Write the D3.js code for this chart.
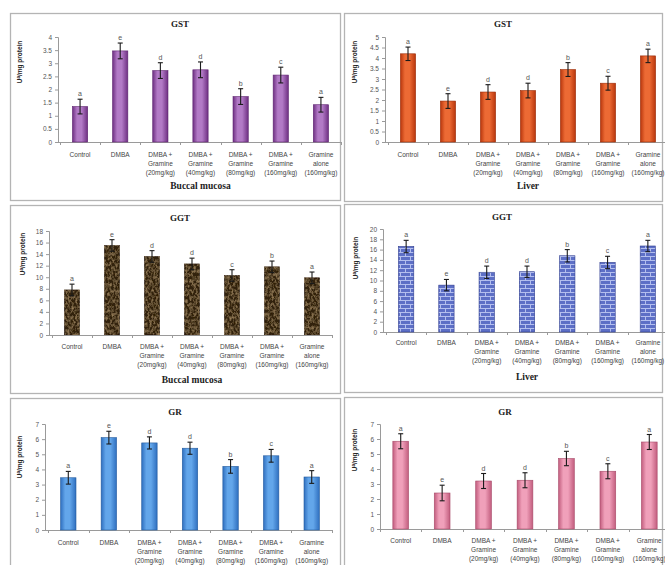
<!DOCTYPE html>
<html>
<head>
<meta charset="utf-8">
<script src="https://cdn.jsdelivr.net/npm/d3@7"></script>
<style>
  html, body { margin: 0; padding: 0; background: #fff; }
  svg { display: block; }
</style>
</head>
<body>
<svg id="fig" width="665" height="565"></svg>
<script>
// Treatment groups (shared by every panel)
const categories = [
  ["Control"],
  ["DMBA"],
  ["DMBA +", "Gramine", "(20mg/kg)"],
  ["DMBA +", "Gramine", "(40mg/kg)"],
  ["DMBA +", "Gramine", "(80mg/kg)"],
  ["DMBA +", "Gramine", "(160mg/kg)"],
  ["Gramine", "alone", "(160mg/kg)"]
];

// GST, buccal mucosa
const gstBuccal    = [1.35, 3.47, 2.72, 2.75, 1.73, 2.55, 1.42];
const gstBuccalErr = [0.28, 0.30, 0.30, 0.30, 0.30, 0.30, 0.28];
const gstBuccalSig = ["a", "e", "d", "d", "b", "c", "a"];
const gstBuccalTicks = [0, 0.5, 1, 1.5, 2, 2.5, 3, 3.5, 4];

// GST, liver
const gstLiver    = [4.2, 1.95, 2.38, 2.45, 3.45, 2.8, 4.1];
const gstLiverErr = [0.32, 0.35, 0.35, 0.35, 0.33, 0.33, 0.32];
const gstLiverSig = ["a", "e", "d", "d", "b", "c", "a"];
const gstLiverTicks = [0, 0.5, 1, 1.5, 2, 2.5, 3, 3.5, 4, 4.5, 5];

// GGT, buccal mucosa
const ggtBuccal    = [7.8, 15.5, 13.6, 12.3, 10.3, 11.8, 9.9];
const ggtBuccalErr = [1.0, 1.0, 1.0, 1.0, 1.0, 1.0, 1.0];
const ggtBuccalSig = ["a", "e", "d", "d", "c", "b", "a"];
const ggtBuccalTicks = [0, 2, 4, 6, 8, 10, 12, 14, 16, 18];

// GGT, liver
const ggtLiver    = [16.6, 9.1, 11.6, 11.7, 14.8, 13.5, 16.7];
const ggtLiverErr = [1.2, 1.1, 1.2, 1.1, 1.2, 1.2, 1.1];
const ggtLiverSig = ["a", "e", "d", "d", "b", "c", "a"];
const ggtLiverTicks = [0, 2, 4, 6, 8, 10, 12, 14, 16, 18, 20];

// GR, buccal mucosa
const grBuccal    = [3.45, 6.1, 5.75, 5.4, 4.2, 4.9, 3.5];
const grBuccalErr = [0.42, 0.42, 0.40, 0.40, 0.45, 0.42, 0.42];
const grBuccalSig = ["a", "e", "d", "d", "b", "c", "a"];
const grTicks = [0, 1, 2, 3, 4, 5, 6, 7];

// GR, liver
const grLiver    = [5.85, 2.4, 3.2, 3.25, 4.7, 3.85, 5.8];
const grLiverErr = [0.5, 0.52, 0.5, 0.5, 0.48, 0.5, 0.5];
const grLiverSig = ["a", "e", "d", "d", "b", "c", "a"];

const svg = d3.select("#fig");
const defs = svg.append("defs");

// horizontal shading for the flat-colour bars (dark edges, light middle)
function barGradient(id, edge, mid) {
  const g = defs.append("linearGradient").attr("id", id)
    .attr("x1", "0").attr("x2", "1").attr("y1", "0").attr("y2", "0");
  g.append("stop").attr("offset", "0%").attr("stop-color", edge);
  g.append("stop").attr("offset", "30%").attr("stop-color", mid);
  g.append("stop").attr("offset", "60%").attr("stop-color", mid);
  g.append("stop").attr("offset", "100%").attr("stop-color", edge);
}
barGradient("gPurple", "#6e2f82", "#b27ac6");
barGradient("gOrange", "#b8360c", "#ec6a34");
barGradient("gBlue",   "#2f6fbf", "#63a6ea");
barGradient("gPink",   "#c25d7e", "#f0a0ba");

// brown granite texture: dark base with fine lighter streaks
const gran = defs.append("filter").attr("id", "granite")
  .attr("x", 0).attr("y", 0).attr("width", 1).attr("height", 1);
gran.append("feTurbulence").attr("type", "fractalNoise")
  .attr("baseFrequency", "0.5 0.3").attr("numOctaves", 3).attr("seed", 7).attr("result", "n");
gran.append("feColorMatrix").attr("in", "n").attr("type", "matrix")
  .attr("values", "0 0 0 0 0.46  0 0 0 0 0.31  0 0 0 0 0.15  1.5 0 0 0 -0.62")
  .attr("result", "spots");
gran.append("feComposite").attr("in", "spots").attr("in2", "SourceGraphic")
  .attr("operator", "in").attr("result", "clip");
const gm = gran.append("feMerge");
gm.append("feMergeNode").attr("in", "SourceGraphic");
gm.append("feMergeNode").attr("in", "clip");

// blue brick texture
const brick = defs.append("pattern").attr("id", "brick")
  .attr("patternUnits", "userSpaceOnUse").attr("width", 10).attr("height", 8);
brick.append("rect").attr("width", 10).attr("height", 8).attr("fill", "#5d6fc6");
brick.append("path")
  .attr("d", "M0,0.5H10M0,4.5H10M0.5,0.5V4.5M5.5,4.5V8")
  .attr("stroke", "#b4bfee").attr("stroke-width", 1).attr("fill", "none");

const panels = [
  { title: "GST", vals: gstBuccal, err: gstBuccalErr, sig: gstBuccalSig, ticks: gstBuccalTicks,
    fill: "url(#gPurple)", stroke: "#5e2470", xTitle: "Buccal mucosa",
    box: [10, 13, 330, 187], axisX: 58, xr: [60, 341], yr: [142, 37],
    titlePos: [180, 27], yTitlePos: [22, 62], catY: 157, xTitleY: 189 },
  { title: "GST", vals: gstLiver, err: gstLiverErr, sig: gstLiverSig, ticks: gstLiverTicks,
    fill: "url(#gOrange)", stroke: "#9a2c08", xTitle: "Liver",
    box: [344, 13, 318, 188], axisX: 385, xr: [388, 668], yr: [142, 37],
    titlePos: [503, 27], yTitlePos: [357, 62], catY: 157, xTitleY: 189 },
  { title: "GGT", vals: ggtBuccal, err: ggtBuccalErr, sig: ggtBuccalSig, ticks: ggtBuccalTicks,
    fill: "#32200f", filter: "url(#granite)", stroke: "#24140a", xTitle: "Buccal mucosa",
    box: [10, 205, 330, 188], axisX: 49, xr: [52, 332], yr: [335, 231],
    titlePos: [180, 221], yTitlePos: [25, 254], catY: 349, xTitleY: 383 },
  { title: "GGT", vals: ggtLiver, err: ggtLiverErr, sig: ggtLiverSig, ticks: ggtLiverTicks,
    fill: "url(#brick)", stroke: "#2c3a8e", xTitle: "Liver",
    box: [344, 204, 318, 188], axisX: 383, xr: [386, 668], yr: [332, 229],
    titlePos: [502, 220], yTitlePos: [358, 258], catY: 345, xTitleY: 380 },
  { title: "GR", vals: grBuccal, err: grBuccalErr, sig: grBuccalSig, ticks: grTicks,
    fill: "url(#gBlue)", stroke: "#245b9e", xTitle: "",
    box: [10, 398, 330, 175], axisX: 45, xr: [48, 332], yr: [530, 424],
    titlePos: [175, 415], yTitlePos: [22, 457], catY: 545, xTitleY: 600 },
  { title: "GR", vals: grLiver, err: grLiverErr, sig: grLiverSig, ticks: grTicks,
    fill: "url(#gPink)", stroke: "#a84b6a", xTitle: "",
    box: [344, 397, 318, 175], axisX: 380, xr: [380, 670], yr: [529, 424],
    titlePos: [505, 415], yTitlePos: [357, 450], catY: 543, xTitleY: 600 }
];

const tickFont = "Liberation Sans, Arial, sans-serif";
const serif = "Liberation Serif, Times New Roman, serif";

panels.forEach(p => {
  const g = svg.append("g");
  const [bx, by, bw, bh] = p.box;
  g.append("rect").attr("x", bx + 0.5).attr("y", by + 0.5)
    .attr("width", bw).attr("height", bh)
    .attr("fill", "#fff").attr("stroke", "#b4b4b4").attr("stroke-width", 1.3);

  const y = d3.scaleLinear().domain([0, d3.max(p.ticks)]).range(p.yr);
  const x = d3.scaleBand().domain(d3.range(categories.length))
    .range(p.xr).paddingInner(0.62).paddingOuter(0.31);

  // y axis
  const ya = g.append("g").attr("transform", `translate(${p.axisX},0)`)
    .call(d3.axisLeft(y).tickValues(p.ticks).tickSize(3).tickPadding(3)
      .tickFormat(d => String(d)));
  ya.select(".domain").attr("stroke", "#9a9a9a");
  ya.selectAll(".tick line").attr("stroke", "#9a9a9a");
  ya.selectAll(".tick text").attr("fill", "#555").style("font", `6.5px ${tickFont}`);

  // x axis line with separators between groups
  const xa = g.append("g");
  xa.append("line").attr("x1", p.axisX).attr("x2", p.xr[1])
    .attr("y1", p.yr[0] + 0.5).attr("y2", p.yr[0] + 0.5).attr("stroke", "#9a9a9a");
  d3.range(categories.length + 1).forEach(i => {
    const tx = Math.round(p.xr[0] + i * x.step()) + 0.5;
    xa.append("line").attr("x1", tx).attr("x2", tx)
      .attr("y1", p.yr[0]).attr("y2", p.yr[0] + 3).attr("stroke", "#9a9a9a");
  });

  // bars
  g.selectAll("rect.bar").data(p.vals).join("rect").attr("class", "bar")
    .attr("x", (d, i) => x(i)).attr("width", x.bandwidth())
    .attr("y", d => y(d)).attr("height", d => y(0) - y(d))
    .attr("fill", p.fill).attr("stroke", p.stroke).attr("stroke-width", 0.6)
    .attr("filter", p.filter || null);

  // error bars
  const eb = g.append("g").attr("stroke", "#1a1a1a").attr("stroke-width", 1.1);
  p.vals.forEach((v, i) => {
    const cx = x(i) + x.bandwidth() / 2;
    const e = p.err[i];
    eb.append("line").attr("x1", cx).attr("x2", cx).attr("y1", y(v + e)).attr("y2", y(v - e));
    eb.append("line").attr("x1", cx - 2.5).attr("x2", cx + 2.5).attr("y1", y(v + e)).attr("y2", y(v + e));
    eb.append("line").attr("x1", cx - 2.5).attr("x2", cx + 2.5).attr("y1", y(v - e)).attr("y2", y(v - e));
  });

  // significance letters
  g.selectAll("text.sig").data(p.sig).join("text").attr("class", "sig")
    .attr("x", (d, i) => x(i) + x.bandwidth() / 2)
    .attr("y", (d, i) => y(p.vals[i] + p.err[i]) - 3)
    .attr("text-anchor", "middle").attr("fill", "#555")
    .style("font", `7px ${tickFont}`).text(d => d);

  // category labels
  categories.forEach((lines, i) => {
    const t = g.append("text").attr("text-anchor", "middle").attr("fill", "#444")
      .style("font", `6.5px ${tickFont}`);
    lines.forEach((ln, k) => {
      t.append("tspan").attr("x", x(i) + x.bandwidth() / 2)
        .attr("y", p.catY + k * 9).text(ln);
    });
  });

  // chart title
  g.append("text").attr("x", p.titlePos[0]).attr("y", p.titlePos[1])
    .attr("text-anchor", "middle").attr("fill", "#222")
    .style("font", `bold 9px ${serif}`).text(p.title);

  // y axis title
  const yt = g.append("text")
    .attr("transform", `translate(${p.yTitlePos[0]},${p.yTitlePos[1]}) rotate(-90)`)
    .attr("text-anchor", "middle").attr("fill", "#222")
    .style("font", `bold 6.5px ${tickFont}`);
  yt.append("tspan").text("U");
  yt.append("tspan").attr("dy", -2.5).style("font-size", "4.5px").text("a");
  yt.append("tspan").attr("dy", 2.5).text("/mg protein");

  // x axis title
  if (p.xTitle) {
    g.append("text").attr("x", (p.xr[0] + p.xr[1]) / 2).attr("y", p.xTitleY)
      .attr("text-anchor", "middle").attr("fill", "#222")
      .style("font", `bold 9.5px ${serif}`).text(p.xTitle);
  }
});
</script>
</body>
</html>
